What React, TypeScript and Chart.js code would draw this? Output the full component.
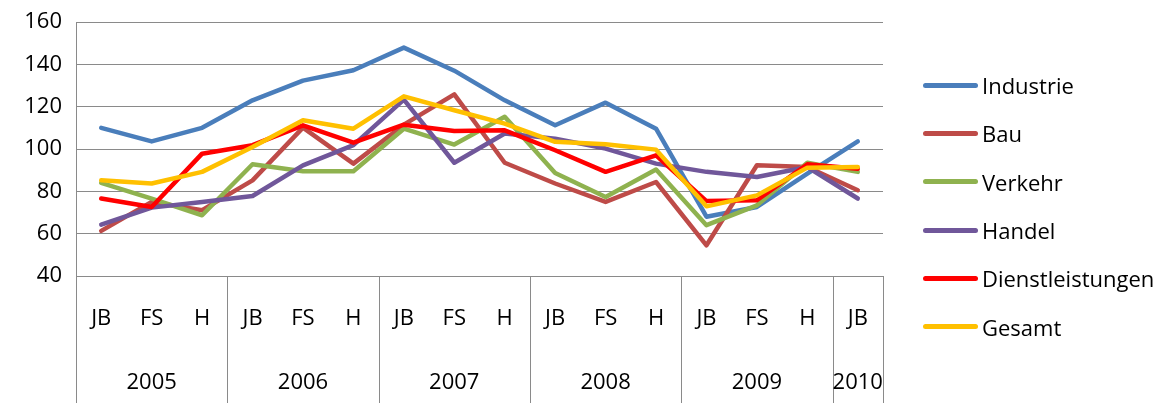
import React, { useEffect, useRef } from "react";
import { Chart, registerables } from "chart.js";

Chart.register(...registerables);

const categories = ["JB", "FS", "H", "JB", "FS", "H", "JB", "FS", "H", "JB", "FS", "H", "JB", "FS", "H", "JB"];
const years = ["2005", "2006", "2007", "2008", "2009", "2010"];
const yearGroupSizes = [3, 3, 3, 3, 3, 1];

const industrie = [110, 103.6, 110, 123, 132.3, 137.2, 147.9, 137, 123, 111.2, 121.9, 109.6, 68, 72.6, 88.4, 103.6];
const bau = [61.3, 75, 71.1, 85.2, 110.1, 93.1, 111.5, 125.8, 93.5, 83.7, 75, 84.4, 54.5, 92.3, 91.5, 80.5];
const verkehr = [84, 76.6, 68.7, 92.8, 89.5, 89.5, 109.6, 102.1, 115.2, 88.7, 77.3, 90.3, 64, 73.4, 93.5, 89.2];
const handel = [64.3, 72.3, 75, 77.8, 92.3, 101.8, 123.3, 93.5, 107.3, 104.9, 100.2, 93.1, 89.2, 86.8, 91.5, 76.6];
const dienstleistungen = [76.6, 72.6, 97.8, 101.8, 111.2, 103, 111.5, 108.5, 108.8, 99.4, 89.2, 97, 75.4, 75.8, 92.8, 90.7];
const gesamt = [85.2, 83.7, 89.2, 100.9, 113.6, 109.6, 124.9, 118.3, 112, 103.4, 102.2, 99.7, 72.9, 78.1, 91.2, 91.5];

const seriesNames = ["Industrie", "Bau", "Verkehr", "Handel", "Dienstleistungen", "Gesamt"];
const seriesValues = [industrie, bau, verkehr, handel, dienstleistungen, gesamt];
const seriesColors = ["#4A7EBB", "#BE4B48", "#8FB24F", "#70579A", "#FF0000", "#FFC000"];

const yMin = 40;
const yMax = 160;
const yStep = 20;

const FONT = "'Open Sans', 'Noto Sans', sans-serif";
const GRID = "#8a8a8a";

const multiLevelAxis = {
  id: "multiLevelAxis",
  afterDraw(chart: any) {
    const { ctx, chartArea, scales } = chart;
    const x = scales.x;
    const bottom = chart.height;
    ctx.save();
    ctx.strokeStyle = GRID;
    ctx.lineWidth = 1;
    const boundaries: number[] = [chartArea.left];
    let idx = 0;
    yearGroupSizes.forEach((size) => {
      idx += size;
      if (idx < categories.length) {
        boundaries.push((x.getPixelForValue(idx - 1) + x.getPixelForValue(idx)) / 2);
      } else {
        boundaries.push(chartArea.right);
      }
    });
    boundaries.forEach((bx) => {
      const px = Math.round(bx) + 0.5;
      ctx.beginPath();
      ctx.moveTo(px, chartArea.bottom);
      ctx.lineTo(px, bottom);
      ctx.stroke();
    });
    ctx.fillStyle = "#000";
    ctx.font = `22px ${FONT}`;
    ctx.textAlign = "center";
    ctx.textBaseline = "middle";
    categories.forEach((c, i) => {
      ctx.fillText(c, x.getPixelForValue(i), 319);
    });
    let start = 0;
    yearGroupSizes.forEach((size, g) => {
      const cx = (x.getPixelForValue(start) + x.getPixelForValue(start + size - 1)) / 2;
      ctx.fillText(years[g], cx, 383);
      start += size;
    });
    ctx.restore();
  },
};

export default function App() {
  const canvasRef = useRef<HTMLCanvasElement | null>(null);

  useEffect(() => {
    if (!canvasRef.current) return;
    const chart = new Chart(canvasRef.current, {
      type: "line",
      data: {
        labels: categories,
        datasets: seriesNames.map((name, i) => ({
          label: name,
          data: seriesValues[i],
          borderColor: seriesColors[i],
          backgroundColor: seriesColors[i],
          borderWidth: 4.5,
          pointRadius: 0,
          tension: 0,
          fill: false,
          order: seriesNames.length - i,
          borderJoinStyle: "round" as const,
          borderCapStyle: "round" as const,
        })),
      },
      options: {
        animation: false,
        responsive: true,
        maintainAspectRatio: false,
        layout: { padding: { top: 22, bottom: 127, left: 0, right: 284 } },
        plugins: { legend: { display: false }, tooltip: { enabled: false } },
        scales: {
          x: { display: false, offset: true },
          y: {
            min: yMin,
            max: yMax,
            ticks: {
              stepSize: yStep,
              color: "#000",
              font: { family: FONT, size: 22, lineHeight: 1 },
              padding: 14,
            },
            grid: { color: GRID, lineWidth: 1, drawTicks: false },
            border: { display: true, color: GRID, width: 1 },
            afterFit: (scale: any) => {
              scale.width = 76;
              scale.paddingTop = 0;
              scale.paddingBottom = 0;
            },
          },
        },
      },
      plugins: [multiLevelAxis],
    });
    return () => chart.destroy();
  }, []);

  return (
    <div style={{ position: "fixed", left: 0, top: 0, width: 1167, height: 403, background: "#fff" }}>
      <canvas ref={canvasRef} />
      <div style={{ position: "absolute", left: 923, top: 61, fontFamily: FONT, fontSize: 22 }}>
        {seriesNames.map((name, i) => (
          <div key={name} style={{ display: "flex", alignItems: "center", height: 48.3 }}>
            <div style={{ width: 55, height: 5, borderRadius: 3, background: seriesColors[i], marginRight: 4 }} />
            <span style={{ lineHeight: "22px", color: "#000" }}>{name}</span>
          </div>
        ))}
      </div>
    </div>
  );
}
